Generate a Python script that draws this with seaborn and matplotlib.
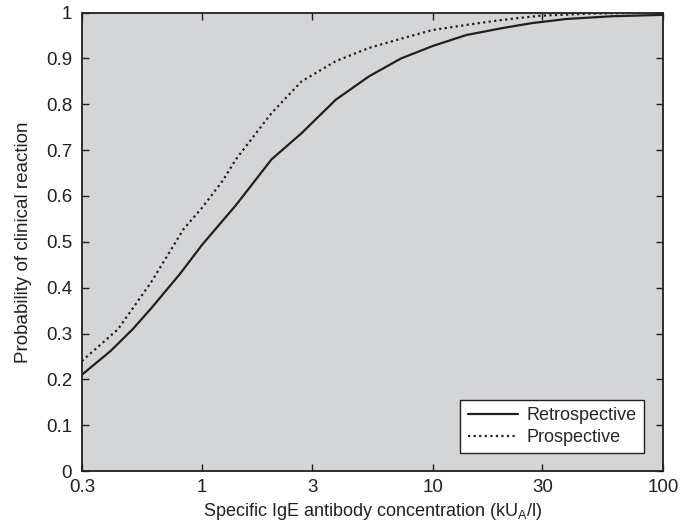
import matplotlib
matplotlib.use("Agg")
import matplotlib.pyplot as plt
import seaborn as sns
import pandas as pd
from matplotlib.ticker import FixedLocator, FixedFormatter

# values
retro_x = [0.3, 0.4, 0.5, 0.6, 0.8, 1.0, 1.4, 2.0, 2.7, 3.8, 5.3, 7.3, 10, 14, 20, 27, 38, 60, 100]
retro_y = [0.21, 0.262, 0.31, 0.355, 0.43, 0.494, 0.58, 0.68, 0.737, 0.81, 0.861, 0.90, 0.927,
           0.951, 0.966, 0.977, 0.986, 0.992, 0.995]
pros_x = [0.3, 0.43, 0.6, 0.83, 1.0, 1.23, 1.4, 2.0, 2.7, 3.8, 5.3, 7.3, 10, 14, 20, 29, 50, 100]
pros_y = [0.24, 0.309, 0.412, 0.528, 0.575, 0.634, 0.68, 0.781, 0.85, 0.894, 0.923, 0.943,
          0.962, 0.973, 0.984, 0.993, 0.998, 1.0]
series = ["Retrospective", "Prospective"]
x_ticks = [0.3, 1, 3, 10, 30, 100]
x_tick_labels = ["0.3", "1", "3", "10", "30", "100"]
y_ticks = [0, 0.1, 0.2, 0.3, 0.4, 0.5, 0.6, 0.7, 0.8, 0.9, 1]

df = pd.concat([
    pd.DataFrame({"x": retro_x, "y": retro_y, "study": series[0]}),
    pd.DataFrame({"x": pros_x, "y": pros_y, "study": series[1]}),
])

sns.set_style("ticks")
plt.rcParams["font.family"] = ["Liberation Sans", "DejaVu Sans"]

ink = "#231f20"
fig = plt.figure(figsize=(6.82, 5.24), dpi=100)
ax = fig.add_axes([0.120, 0.101, 0.852, 0.875])
ax.set_facecolor("#d4d5d7")

sns.lineplot(data=df, x="x", y="y", hue="study", style="study",
             palette={series[0]: ink, series[1]: ink},
             dashes={series[0]: "", series[1]: (1, 1.5)},
             linewidth=1.6, ax=ax, sort=True)

ax.set_xscale("log")
ax.set_xlim(0.3, 100)
ax.set_ylim(0, 1)
ax.xaxis.set_major_locator(FixedLocator(x_ticks))
ax.xaxis.set_major_formatter(FixedFormatter(x_tick_labels))
ax.xaxis.set_minor_locator(FixedLocator([]))
ax.set_yticks(y_ticks)
ax.set_yticklabels(["%g" % v for v in y_ticks])

ax.tick_params(direction="in", length=5, width=1, top=True, right=True,
               labelsize=13.5, colors=ink)
ax.tick_params(axis="x", pad=6)
ax.tick_params(axis="y", pad=7)
for s in ax.spines.values():
    s.set_linewidth(1.3)
    s.set_color(ink)

ax.set_xlabel(r"Specific IgE antibody concentration (kU$_\mathregular{A}$/l)",
              fontsize=13, color=ink, labelpad=3)
ax.set_ylabel("Probability of clinical reaction", fontsize=13.5, color=ink, labelpad=10)

leg = ax.legend(loc="lower right", bbox_to_anchor=(0.967, 0.039), borderaxespad=0,
                fontsize=13, fancybox=False, framealpha=1, edgecolor=ink,
                handlelength=2.8, handletextpad=0.45, borderpad=0.4, labelspacing=0.25)
leg.get_frame().set_linewidth(1.0)

fig.savefig("out.png", dpi=100)
